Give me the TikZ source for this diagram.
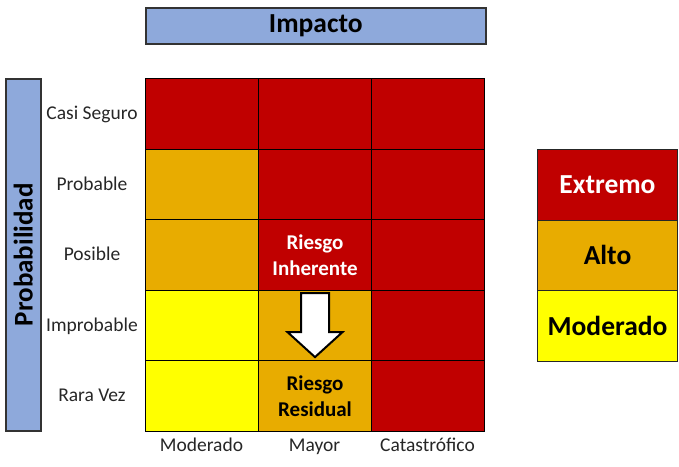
\documentclass[tikz,border=0pt]{standalone}
\usepackage{fontspec}
\setmainfont{Carlito}
\usepackage{tikz}
\definecolor{rkred}{RGB}{192,0,0}
\definecolor{rkorange}{RGB}{232,172,0}
\definecolor{rkyellow}{RGB}{255,255,0}
\definecolor{rkblue}{RGB}{142,169,219}
\tikzset{
  rkcell/.style={draw=black, line width=1pt, minimum width=113pt, minimum height=70.6pt, inner sep=0pt, anchor=north west, align=center, font=\fontsize{21}{26}\selectfont\bfseries},
  rkhead/.style={fill=rkblue, draw=black!80, line width=1.5pt, inner sep=0pt, anchor=north west, font=\fontsize{27.5}{30}\selectfont\bfseries},
  rklegend/.style={draw=black!85, line width=1pt, minimum width=140pt, minimum height=70.6pt, inner sep=0pt, anchor=north west, font=\fontsize{27.5}{30}\selectfont\bfseries},
  rklabel/.style={inner sep=0pt, text=black!85, text height=13pt, text depth=0.5pt, font=\fontsize{19.5}{22}\selectfont},
  rkarrow/.style={fill=white, draw=black, line width=2pt, line join=miter},
}

\begin{document}
\begin{tikzpicture}[x=1pt, y=-1pt]
\useasboundingbox (0,0) rectangle (679,466);
% title and side header
\node[rkhead, minimum width=340pt, minimum height=36pt] (impact) at (145,7) {Impacto};
\node[rkhead, minimum width=35pt, minimum height=352pt] (prob) at (5,78) {};
\node[rotate=90, font=\fontsize{27}{30}\selectfont\bfseries] at (prob.center) {Probabilidad};
% matrix
\foreach \lab/\ca/\cb/\cc [count=\i] in {Casi Seguro/rkred/rkred/rkred, Probable/rkorange/rkred/rkred, Posible/rkorange/rkred/rkred, Improbable/rkyellow/rkorange/rkred, Rara Vez/rkyellow/rkorange/rkred} {
  \node[rkcell, fill=\ca] (c\i1) at (145, 78+70.6*\i-70.6) {};
  \node[rkcell, fill=\cb] (c\i2) at (258, 78+70.6*\i-70.6) {};
  \node[rkcell, fill=\cc] (c\i3) at (371, 78+70.6*\i-70.6) {};
  \node[rklabel] (l\i) at (92, 78+70.6*\i-35.3) {\lab};
}
\node[text=white, align=center, font=\fontsize{21}{26}\selectfont\bfseries] at (c32.center) {Riesgo\\Inherente};
\node[align=center, font=\fontsize{21}{26}\selectfont\bfseries] at (c52.center) {Riesgo\\Residual};
% arrow from inherent to residual
\draw[rkarrow] ([xshift=-14pt, yshift=32.5pt]c42.center) -- ([xshift=14pt, yshift=32.5pt]c42.center)
  -- ([xshift=14pt, yshift=-6.5pt]c42.center) -- ([xshift=27.5pt, yshift=-6.5pt]c42.center)
  -- ([yshift=-31.5pt]c42.center) -- ([xshift=-27.5pt, yshift=-6.5pt]c42.center)
  -- ([xshift=-14pt, yshift=-6.5pt]c42.center) -- cycle;
% column labels
\node[rklabel] (m1) at (201.5,445) {Moderado};
\node[rklabel] (m2) at (314.5,445) {Mayor};
\node[rklabel] (m3) at (427.5,445) {Catastrófico};
% legend
\node[rklegend, fill=rkred, text=white] (ext) at (537,149) {Extremo};
\node[rklegend, fill=rkorange] (alt) at (537,219.6) {Alto};
\node[rklegend, fill=rkyellow] (mod) at (537,290.2) {Moderado};
\end{tikzpicture}
\end{document}
